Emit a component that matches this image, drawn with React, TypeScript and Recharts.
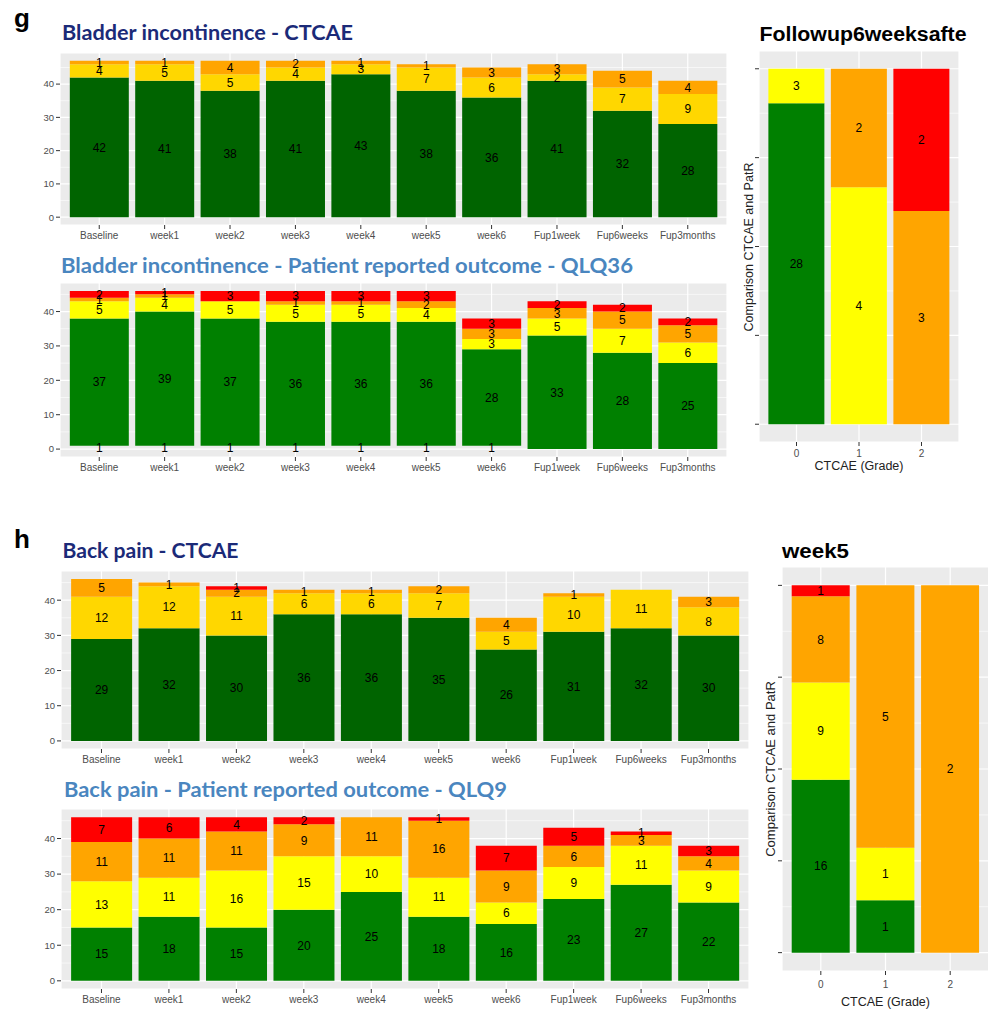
import React from 'react';
import { BarChart, Bar, XAxis, YAxis, CartesianGrid, LabelList } from 'recharts';

// ---------- categories ----------
const timepoints = ['Baseline', 'week1', 'week2', 'week3', 'week4', 'week5', 'week6', 'Fup1week', 'Fup6weeks', 'Fup3months'];
const grades = ['0', '1', '2'];
const leftYTicks = [0, 10, 20, 30, 40];
const leftYMinor = [5, 15, 25, 35, 45];
const rightYTicks = [0, 0.25, 0.5, 0.75, 1];
const rightYMinor = [0.125, 0.375, 0.625, 0.875];

// ---------- g: Bladder incontinence - CTCAE ----------
const bladderCtcaeG0 = [42, 41, 38, 41, 43, 38, 36, 41, 32, 28];
const bladderCtcaeG1 = [4, 5, 5, 4, 3, 7, 6, 2, 7, 9];
const bladderCtcaeG2 = [1, 1, 4, 2, 1, 1, 3, 3, 5, 4];

// ---------- g: Bladder incontinence - PRO QLQ36 ----------
const bladderProNA = [1, 1, 1, 1, 1, 1, 1, 0, 0, 0];
const bladderProG0 = [37, 39, 37, 36, 36, 36, 28, 33, 28, 25];
const bladderProG1 = [5, 4, 5, 5, 5, 4, 3, 5, 7, 6];
const bladderProG2 = [1, 1, 0, 1, 1, 2, 3, 3, 5, 5];
const bladderProG3 = [2, 1, 3, 3, 3, 3, 3, 2, 2, 2];

// ---------- g: Followup6weeks comparison (by CTCAE grade) ----------
const fu6PatG0 = [28, 0, 0];
const fu6PatG1 = [3, 4, 0];
const fu6PatG2 = [0, 2, 3];
const fu6PatG3 = [0, 0, 2];

// ---------- h: Back pain - CTCAE ----------
const backCtcaeG0 = [29, 32, 30, 36, 36, 35, 26, 31, 32, 30];
const backCtcaeG1 = [12, 12, 11, 6, 6, 7, 5, 10, 11, 8];
const backCtcaeG2 = [5, 1, 2, 1, 1, 2, 4, 1, 0, 3];
const backCtcaeG3 = [0, 0, 1, 0, 0, 0, 0, 0, 0, 0];

// ---------- h: Back pain - PRO QLQ9 ----------
const backProG0 = [15, 18, 15, 20, 25, 18, 16, 23, 27, 22];
const backProG1 = [13, 11, 16, 15, 10, 11, 6, 9, 11, 9];
const backProG2 = [11, 11, 11, 9, 11, 16, 9, 6, 3, 4];
const backProG3 = [7, 6, 4, 2, 0, 1, 7, 5, 1, 3];

// ---------- h: week5 comparison (by CTCAE grade) ----------
const wk5PatG0 = [16, 1, 0];
const wk5PatG1 = [9, 1, 0];
const wk5PatG2 = [8, 5, 2];
const wk5PatG3 = [1, 0, 0];

// ---------- colours ----------
const C_DKGREEN = '#006400';
const C_GOLD = '#FFD700';
const C_GREEN = '#008000';
const C_YELLOW = '#FFFF00';
const C_ORANGE = '#FFA500';
const C_RED = '#FF0000';

type Series = { key: string; values: number[]; color: string };

// Rows hold raw counts (key + "_n") and the plotted value (share of the bar when "fill" is on)
function buildRows(cats: string[], series: Series[], fill: boolean) {
  return cats.map((c, i) => {
    const row: Record<string, any> = { cat: c };
    const total = series.reduce((a, s) => a + s.values[i], 0);
    series.forEach((s) => {
      row[s.key + '_n'] = s.values[i];
      row[s.key] = fill ? (total ? s.values[i] / total : 0) : s.values[i];
    });
    row.__total = fill ? 1 : total;
    return row;
  });
}

const FONT = '"Liberation Sans", Arial, sans-serif';

type PanelProps = {
  x0: number;
  y0: number;
  w: number;
  h: number;
  cats: string[];
  series: Series[];
  expand?: boolean;
  xFont?: number;
  xMargin?: number;
};

function Panel({ x0, y0, w, h, cats, series, expand = false, xFont = 10, xMargin = 3 }: PanelProps) {
  const data = buildRows(cats, series, expand);
  const yW = expand ? 12 : 40;
  const xH = 30;
  const n = cats.length;
  const unit = w / (n + 0.2);
  const pad = unit * 0.1;
  const mx = Math.max(...data.map((r) => r.__total));
  const domain: [number, number] = [-0.05 * mx, 1.05 * mx];
  const ticks = expand ? rightYTicks : leftYTicks;
  const minor = expand ? rightYMinor : leftYMinor;
  return (
    <div style={{ position: 'absolute', left: x0 - yW, top: y0 }}>
      <BarChart
        width={w + yW}
        height={h + xH}
        data={data}
        margin={{ top: 0, right: 0, bottom: 0, left: 0 }}
        barCategoryGap="5%"
        barGap={0}
        style={{ fontFamily: FONT, overflow: 'visible' }}
      >
        <CartesianGrid fill="#EBEBEB" stroke="#FFFFFF" strokeWidth={0.6} vertical={false} horizontalValues={minor} />
        <CartesianGrid stroke="#FFFFFF" strokeWidth={1.2} />
        <XAxis
          dataKey="cat"
          type="category"
          interval={0}
          height={xH}
          tickSize={4}
          tickMargin={xMargin}
          axisLine={false}
          tickLine={{ stroke: '#333333' }}
          tick={{ fill: '#4D4D4D', fontSize: xFont }}
          padding={{ left: pad, right: pad }}
        />
        <YAxis
          type="number"
          domain={domain}
          allowDataOverflow
          ticks={ticks}
          interval={0}
          width={yW}
          tickSize={4}
          tickMargin={2}
          axisLine={false}
          tickLine={{ stroke: '#333333' }}
          tick={{ fill: '#4D4D4D', fontSize: 9.5 }}
          tickFormatter={expand ? () => '' : (v: number) => String(v)}
        />
        {series.map((s) => (
          <Bar key={s.key} dataKey={s.key} stackId="a" fill={s.color} isAnimationActive={false}>
            <LabelList
              dataKey={s.key + '_n'}
              position="center"
              fill="#000000"
              fontSize={12}
              formatter={(v: any) => (v ? String(v) : '')}
            />
          </Bar>
        ))}
      </BarChart>
    </div>
  );
}

const bladderCtcaeSeries: Series[] = [
  { key: 'g0', values: bladderCtcaeG0, color: C_DKGREEN },
  { key: 'g1', values: bladderCtcaeG1, color: C_GOLD },
  { key: 'g2', values: bladderCtcaeG2, color: C_ORANGE },
];
const bladderProSeries: Series[] = [
  { key: 'na', values: bladderProNA, color: 'transparent' },
  { key: 'g0', values: bladderProG0, color: C_GREEN },
  { key: 'g1', values: bladderProG1, color: C_YELLOW },
  { key: 'g2', values: bladderProG2, color: C_ORANGE },
  { key: 'g3', values: bladderProG3, color: C_RED },
];
const fu6Series: Series[] = [
  { key: 'g0', values: fu6PatG0, color: C_GREEN },
  { key: 'g1', values: fu6PatG1, color: C_YELLOW },
  { key: 'g2', values: fu6PatG2, color: C_ORANGE },
  { key: 'g3', values: fu6PatG3, color: C_RED },
];
const backCtcaeSeries: Series[] = [
  { key: 'g0', values: backCtcaeG0, color: C_DKGREEN },
  { key: 'g1', values: backCtcaeG1, color: C_GOLD },
  { key: 'g2', values: backCtcaeG2, color: C_ORANGE },
  { key: 'g3', values: backCtcaeG3, color: C_RED },
];
const backProSeries: Series[] = [
  { key: 'g0', values: backProG0, color: C_GREEN },
  { key: 'g1', values: backProG1, color: C_YELLOW },
  { key: 'g2', values: backProG2, color: C_ORANGE },
  { key: 'g3', values: backProG3, color: C_RED },
];
const wk5Series: Series[] = [
  { key: 'g0', values: wk5PatG0, color: C_GREEN },
  { key: 'g1', values: wk5PatG1, color: C_YELLOW },
  { key: 'g2', values: wk5PatG2, color: C_ORANGE },
  { key: 'g3', values: wk5PatG3, color: C_RED },
];

const NAVY = '#1B2A78';
const STEEL = '#4A86BF';
const TITLE_FONT = 'Lato, "Open Sans", sans-serif';

export default function App() {
  return (
    <div
      style={{
        position: 'absolute',
        left: 0,
        top: 0,
        width: 988,
        height: 1012,
        overflow: 'hidden',
        background: '#FFFFFF',
        fontFamily: FONT,
      }}
    >
      <Panel x0={60} y0={53} w={667} h={172} cats={timepoints} series={bladderCtcaeSeries} />
      <Panel x0={60} y0={283} w={667} h={174} cats={timepoints} series={bladderProSeries} />
      <Panel x0={759} y0={51} w={200} h={391} cats={grades} series={fu6Series} expand xMargin={4} />
      <Panel x0={61} y0={571} w={688} h={178} cats={timepoints} series={backCtcaeSeries} />
      <Panel x0={61} y0={809} w={688} h={180} cats={timepoints} series={backProSeries} />
      <Panel x0={782} y0={567} w={207} h={404} cats={grades} series={wk5Series} expand xMargin={6} />

      <svg
        width={988}
        height={1012}
        style={{ position: 'absolute', left: 0, top: 0, pointerEvents: 'none' }}
      >
        <text x={14} y={27} fontFamily={FONT} fontWeight="bold" fontSize={26} fill="#000">g</text>
        <text x={14} y={547.5} fontFamily={FONT} fontWeight="bold" fontSize={26} fill="#000">h</text>

        <text x={62} y={39.5} fontFamily={TITLE_FONT} fontWeight="bold" fontSize={20} fill={NAVY}
          textLength={291} lengthAdjust="spacingAndGlyphs">Bladder incontinence - CTCAE</text>
        <text x={61} y={272.5} fontFamily={TITLE_FONT} fontWeight="bold" fontSize={20} fill={STEEL}
          textLength={572} lengthAdjust="spacingAndGlyphs">Bladder incontinence - Patient reported outcome - QLQ36</text>
        <text x={62.5} y={557.5} fontFamily={TITLE_FONT} fontWeight="bold" fontSize={20} fill={NAVY}
          textLength={176} lengthAdjust="spacingAndGlyphs">Back pain - CTCAE</text>
        <text x={64} y={796.5} fontFamily={TITLE_FONT} fontWeight="bold" fontSize={20} fill={STEEL}
          textLength={443} lengthAdjust="spacingAndGlyphs">Back pain - Patient reported outcome - QLQ9</text>

        <text x={759.5} y={40.5} fontFamily={FONT} fontWeight="bold" fontSize={20} fill="#000"
          textLength={207} lengthAdjust="spacingAndGlyphs">Followup6weeksafte</text>
        <text x={782} y={558} fontFamily={FONT} fontWeight="bold" fontSize={20} fill="#000"
          textLength={67} lengthAdjust="spacingAndGlyphs">week5</text>

        <text x={0} y={0} transform="translate(752.5,247) rotate(-90)" textAnchor="middle" fontFamily={FONT}
          fontSize={12.5} fill="#222">Comparison CTCAE and PatR</text>
        <text x={859} y={470} textAnchor="middle" fontFamily={FONT} fontSize={12.5} fill="#222">CTCAE (Grade)</text>

        <text x={0} y={0} transform="translate(775,769) rotate(-90)" textAnchor="middle" fontFamily={FONT}
          fontSize={13} fill="#222">Comparison CTCAE and PatR</text>
        <text x={885.5} y={1006} textAnchor="middle" fontFamily={FONT} fontSize={12.5} fill="#222">CTCAE (Grade)</text>
      </svg>
    </div>
  );
}
